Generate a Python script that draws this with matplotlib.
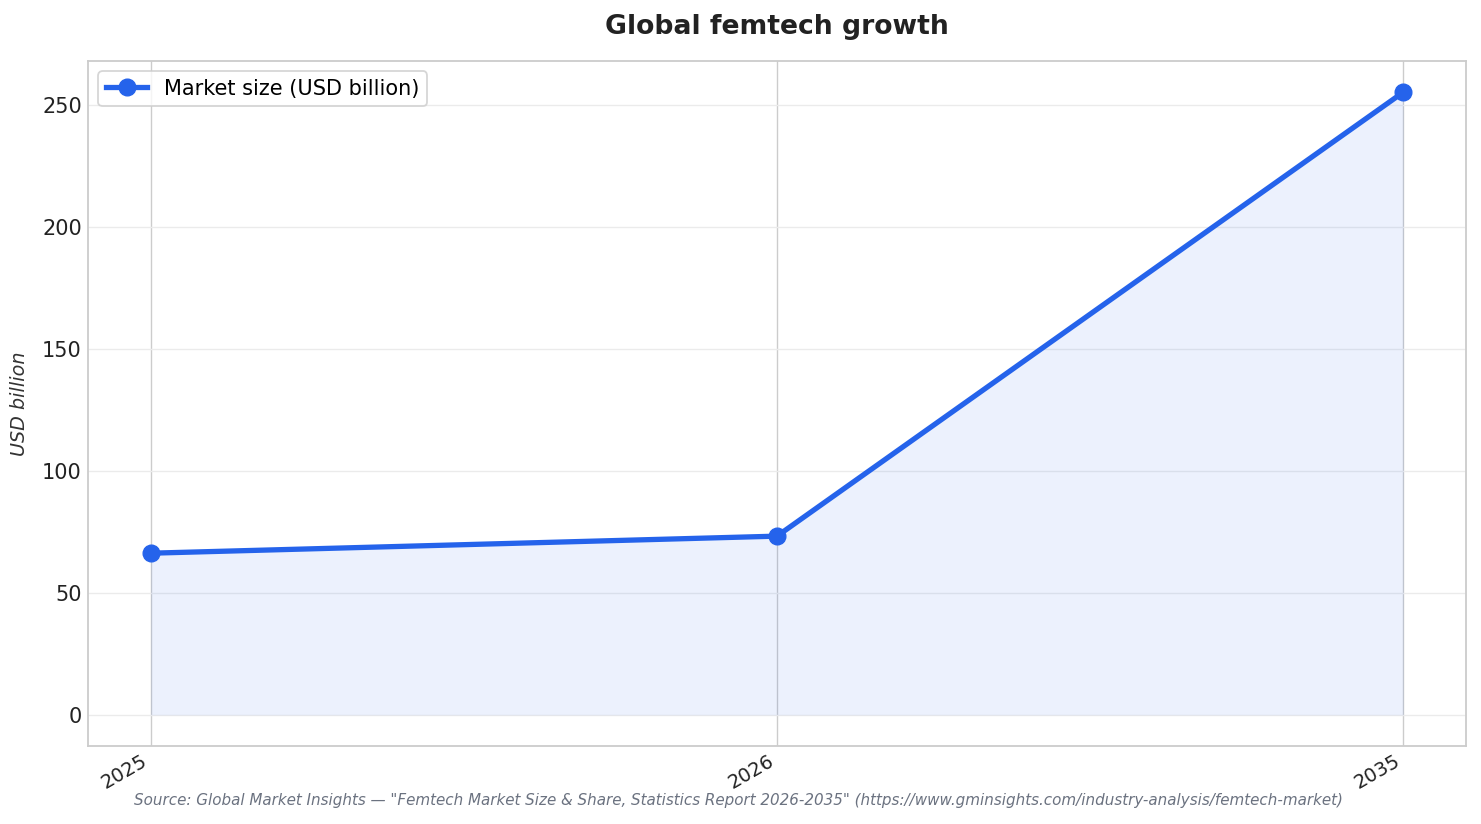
import matplotlib
matplotlib.use("Agg")
import matplotlib.pyplot as plt

years = ["2025", "2026", "2035"]
market_size = [66.3, 73.3, 255.4]
series_label = "Market size (USD billion)"
title = "Global femtech growth"
ylabel = "USD billion"
source = ('Source: Global Market Insights — "Femtech Market Size & Share, Statistics Report 2026-2035" '
          '(https://www.gminsights.com/industry-analysis/femtech-market)')

plt.rcParams['font.family'] = ['DejaVu Sans']
fig = plt.figure(figsize=(14.81, 8.24), dpi=100)
ax = fig.add_axes([88/1481, 1-746/824, (1466-88)/1481, (746-61)/824])

color = "#2563eb"
x = list(range(len(years)))
ax.fill_between(x, market_size, 0, color=color, alpha=0.085, linewidth=0)
ax.plot(x, market_size, color=color, linewidth=3.8, marker="o", markersize=12, label=series_label, zorder=3)

ax.set_xticks(x)
ax.set_xticklabels(years, rotation=30, ha="right", fontsize=14, color="#222222")
ax.tick_params(axis="y", labelsize=15, colors="#222222", length=0, pad=4.5)
ax.tick_params(axis="x", length=0, pad=4)
ax.set_ylim(-12.77, 268.17)
ax.set_xlim(-0.1, 2.1)
ax.set_yticks([0, 50, 100, 150, 200, 250])

ax.grid(axis="y", color="#ebebeb", linewidth=1)
ax.grid(axis="x", color="#cccccc", linewidth=1)
ax.set_axisbelow(True)
for s in ax.spines.values():
    s.set_color("#cccccc")
    s.set_linewidth(1.3)

ax.set_ylabel(ylabel, fontsize=13.8, style="italic", color="#333333", labelpad=9)
fig.text(777/1481, 1-27/824, title, ha="center", va="center", fontsize=19.2, fontweight="bold", color="#222222")

leg = ax.legend(loc="upper left", fontsize=15, frameon=True, fancybox=True, borderpad=0.35)
leg.get_frame().set_edgecolor("#cccccc")
leg.get_frame().set_linewidth(1.3)

fig.text(738/1481, 1-801/824, source, ha="center", va="center", fontsize=10.9, style="italic", color="#6b7280")

fig.savefig("out.png", dpi=100)
